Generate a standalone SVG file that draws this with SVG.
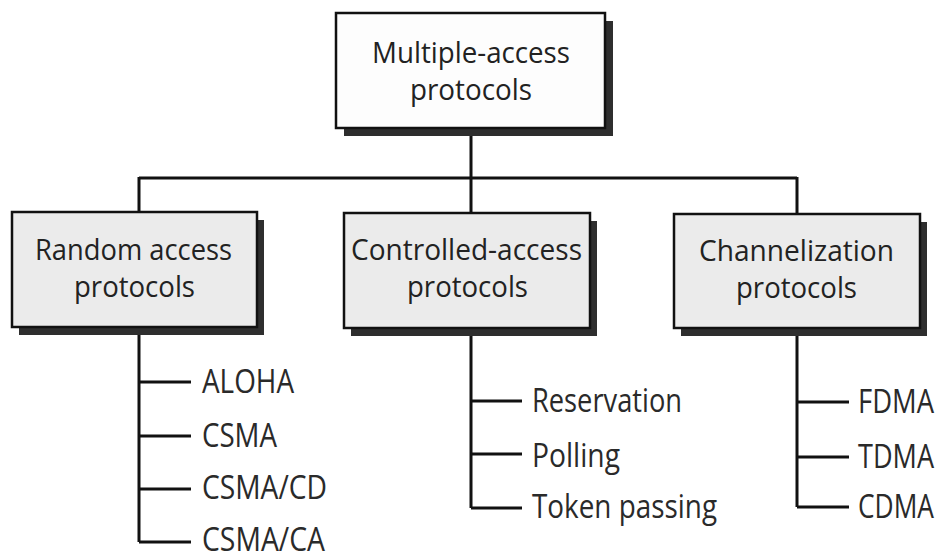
<svg xmlns="http://www.w3.org/2000/svg" width="941" height="556" viewBox="0 0 941 556">
<style>
.shadow{fill:#2e2e2e}
.box{stroke:#111;stroke-width:2.5}
.top{fill:#fdfdfd}
.sub{fill:#ebebeb}
.t{font-family:"Open Sans","Noto Sans","Liberation Sans",sans-serif;fill:#222;font-size:30px}
.leaf{font-family:"Open Sans","Noto Sans","Liberation Sans",sans-serif;fill:#2a2a2a;font-size:32px}
.c{fill:none;stroke:#111;stroke-width:3}
</style>
<rect width="941" height="556" fill="#fff"/>
<g id="connectors">
<path class="c" d="M471 128V213M139 178H797M139 177V212M797 177V214"/>
<path class="c" d="M139 327V542M139 382H191M139 436H191M139 489H191M139 542H191"/>
<path class="c" d="M471 328V508M471 401H522M471 454H522M471 508H522"/>
<path class="c" d="M797 328V507M797 402H849M797 457H849M797 507H849"/>
</g>
<g id="node-top">
<rect class="shadow" x="344" y="21" width="269" height="115"/>
<rect class="box top" x="336" y="13" width="269" height="115"/>
<text class="t" x="372" y="63" textLength="198" lengthAdjust="spacingAndGlyphs">Multiple-access</text>
<text class="t" x="410" y="100" textLength="122" lengthAdjust="spacingAndGlyphs">protocols</text>
</g>
<g id="node-random">
<rect class="shadow" x="19" y="220" width="245" height="115"/>
<rect class="box sub" x="12" y="212" width="245" height="115"/>
<text class="t" x="35" y="260" textLength="197" lengthAdjust="spacingAndGlyphs">Random access</text>
<text class="t" x="74" y="297" textLength="121" lengthAdjust="spacingAndGlyphs">protocols</text>
</g>
<g id="node-controlled">
<rect class="shadow" x="351" y="221" width="246" height="115"/>
<rect class="box sub" x="344" y="213" width="246" height="115"/>
<text class="t" x="351" y="260" textLength="231" lengthAdjust="spacingAndGlyphs">Controlled-access</text>
<text class="t" x="407" y="297" textLength="121" lengthAdjust="spacingAndGlyphs">protocols</text>
</g>
<g id="node-channel">
<rect class="shadow" x="681" y="222" width="246" height="114"/>
<rect class="box sub" x="674" y="214" width="246" height="114"/>
<text class="t" x="699" y="261" textLength="195" lengthAdjust="spacingAndGlyphs">Channelization</text>
<text class="t" x="736" y="298" textLength="121" lengthAdjust="spacingAndGlyphs">protocols</text>
</g>
<g id="leaves-random">
<text class="leaf" x="202" y="393" textLength="92" lengthAdjust="spacingAndGlyphs">ALOHA</text>
<text class="leaf" x="202" y="447" textLength="75" lengthAdjust="spacingAndGlyphs">CSMA</text>
<text class="leaf" x="202" y="499" textLength="125" lengthAdjust="spacingAndGlyphs">CSMA/CD</text>
<text class="leaf" x="202" y="551" textLength="123" lengthAdjust="spacingAndGlyphs">CSMA/CA</text>
</g>
<g id="leaves-controlled">
<text class="leaf" x="532" y="412" textLength="150" lengthAdjust="spacingAndGlyphs">Reservation</text>
<text class="leaf" x="532" y="467" textLength="88" lengthAdjust="spacingAndGlyphs">Polling</text>
<text class="leaf" x="532" y="518" textLength="185" lengthAdjust="spacingAndGlyphs">Token passing</text>
</g>
<g id="leaves-channel">
<text class="leaf" x="858" y="413" textLength="76" lengthAdjust="spacingAndGlyphs">FDMA</text>
<text class="leaf" x="858" y="468" textLength="76" lengthAdjust="spacingAndGlyphs">TDMA</text>
<text class="leaf" x="858" y="518" textLength="76" lengthAdjust="spacingAndGlyphs">CDMA</text>
</g>
</svg>
